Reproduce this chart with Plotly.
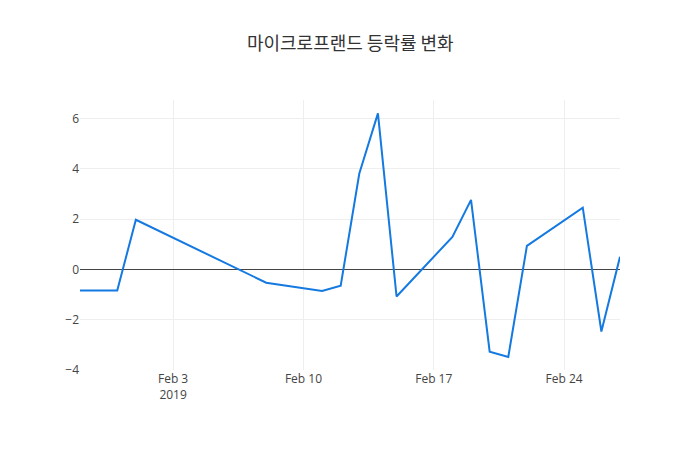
import plotly.graph_objects as go

dates = ['2019-01-29', '2019-01-31', '2019-02-01', '2019-02-08', '2019-02-11',
         '2019-02-12', '2019-02-13', '2019-02-14', '2019-02-15', '2019-02-18',
         '2019-02-19', '2019-02-20', '2019-02-21', '2019-02-22', '2019-02-25',
         '2019-02-26', '2019-02-27']
change = [-0.84, -0.84, 1.97, -0.53, -0.86,
          -0.65, 3.81, 6.2, -1.08, 1.29,
          2.76, -3.27, -3.48, 0.93, 2.45,
          -2.47, 0.5]

fig = go.Figure(
    data=[go.Scatter(x=dates, y=change, mode='lines',
                     line=dict(color='#1479e0', width=2))]
)

# page adds an 8px offset, so shift margins to line the plot up
fig.update_layout(
    template='none',
    width=700, height=450,
    title=dict(text='마이크로프랜드 등락률 변화', x=0.489, xanchor='center',
               y=0.92, yref='container', yanchor='middle',
               font=dict(size=18, family='Noto Sans CJK KR', color='#333')),
    font=dict(family='Open Sans', color='#444'),
    margin=dict(l=72, r=88, t=92, b=88),
    xaxis=dict(showgrid=True, gridcolor='#eee', zeroline=False),
    yaxis=dict(range=[-4, 6.73], gridcolor='#eee', zeroline=True,
               zerolinecolor='#444', zerolinewidth=1, dtick=2),
    showlegend=False,
)

fig.write_html('out.html')
